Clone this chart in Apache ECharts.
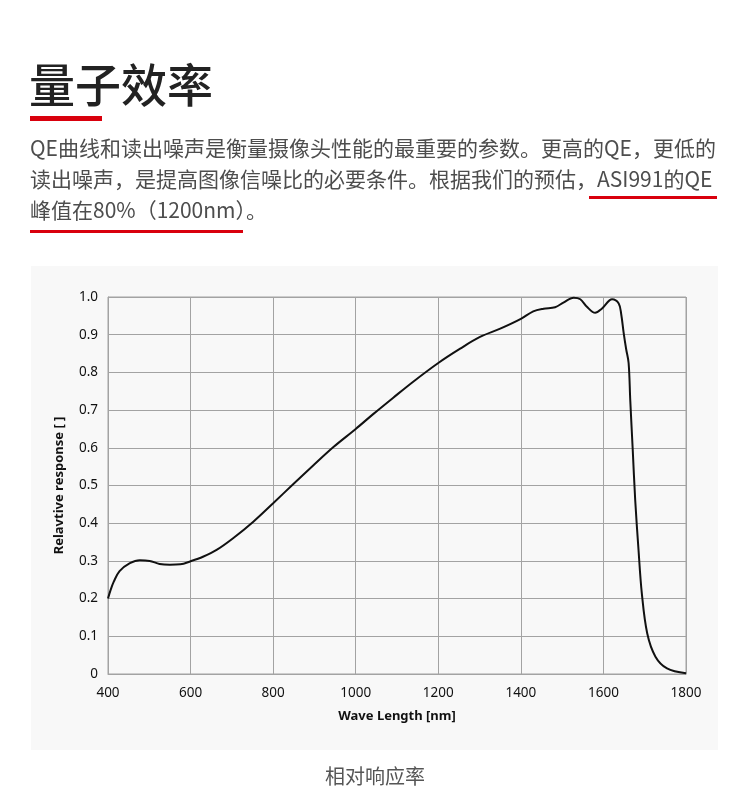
<!DOCTYPE html>
<html lang="zh">
<head>
    <meta charset="UTF-8">
    <title>量子效率</title>
    <script src="https://cdn.jsdelivr.net/npm/echarts@6/dist/echarts.min.js"></script>
    <style>
        html, body { margin: 0; padding: 0; background: #fff; }
        #main { width: 750px; height: 810px; }
    </style>
</head>
<body>
<div id="main"></div>
<script type="text/javascript">
    // 曲线数据 (波长 nm / 相对响应)
    var wavelength = [400, 406, 414, 428, 453, 477, 501, 525, 550, 575, 600, 630, 663, 703, 752, 800,
        849, 897, 946, 1000, 1043, 1091, 1140, 1200, 1253, 1301, 1350, 1400, 1430, 1455, 1483,
        1503, 1528, 1544, 1560, 1580, 1596, 1621, 1637, 1643, 1649, 1655, 1661, 1665, 1671, 1677,
        1685, 1693, 1706, 1726, 1754, 1800];
    var response = [0.200, 0.222, 0.245, 0.273, 0.294, 0.302, 0.300, 0.292, 0.290, 0.291, 0.299, 0.311, 0.329, 0.360, 0.404, 0.453,
        0.504, 0.553, 0.602, 0.650, 0.690, 0.733, 0.776, 0.825, 0.863, 0.894, 0.916, 0.942, 0.962, 0.969, 0.973,
        0.985, 0.998, 0.994, 0.974, 0.958, 0.969, 0.994, 0.983, 0.955, 0.905, 0.862, 0.825, 0.726, 0.594, 0.461,
        0.329, 0.214, 0.108, 0.046, 0.015, 0.002];
    var xTicks = [400, 600, 800, 1000, 1200, 1400, 1600, 1800];
    var yTicks = ['0', '0.1', '0.2', '0.3', '0.4', '0.5', '0.6', '0.7', '0.8', '0.9', '1.0'];

    var titleText = '量子效率';
    var paraLines = [
        'QE曲线和读出噪声是衡量摄像头性能的最重要的参数。更高的QE，更低的',
        '读出噪声，是提高图像信噪比的必要条件。根据我们的预估，ASI991的QE',
        '峰值在80%（1200nm）。'
    ];
    var caption = '相对响应率';

    var points = [];
    for (var i = 0; i < wavelength.length; i++) {
        points.push([wavelength[i], response[i]]);
    }

    var cjk = '"Noto Sans CJK SC", "Noto Sans", sans-serif';
    var latin = '"Noto Sans", "Open Sans", sans-serif';
    var gridColor = '#a3a3a3';

    var myChart = echarts.init(document.getElementById('main'), null, {renderer: 'canvas'});
    myChart.setOption({
        animation: false,
        backgroundColor: '#fff',
        graphic: [
            // 图表底色
            {type: 'rect', z: -10, shape: {x: 31, y: 266, width: 687, height: 484}, style: {fill: '#f8f8f8'}},
            {type: 'text', left: 29, top: 62, style: {text: titleText, font: '500 46px ' + cjk, fill: '#222'}},
            {type: 'rect', shape: {x: 30, y: 116, width: 72, height: 5}, style: {fill: '#d9000d'}},
            {type: 'text', left: 30, top: 138, style: {text: paraLines[0], font: '21px ' + cjk, fill: '#4d4d4d'}},
            {type: 'text', left: 30, top: 169, style: {text: paraLines[1], font: '21px ' + cjk, fill: '#4d4d4d'}},
            {type: 'text', left: 30, top: 200, style: {text: paraLines[2], font: '21px ' + cjk, fill: '#4d4d4d'}},
            {type: 'rect', shape: {x: 589, y: 196, width: 128, height: 3}, style: {fill: '#d9000d'}},
            {type: 'rect', shape: {x: 30, y: 230, width: 213, height: 3}, style: {fill: '#d9000d'}},
            {type: 'text', left: 'center', top: 766, style: {text: caption, font: '20px ' + cjk, fill: '#555'}}
        ],
        grid: {
            left: 108, right: 64, top: 297, bottom: 136,
            show: true, borderColor: gridColor, borderWidth: 1, backgroundColor: 'transparent'
        },
        xAxis: {
            type: 'value',
            min: xTicks[0], max: xTicks[xTicks.length - 1], interval: 200,
            name: 'Wave Length [nm]',
            nameLocation: 'middle', nameGap: 36,
            nameTextStyle: {fontFamily: latin, fontWeight: 'bold', fontSize: 13, color: '#111'},
            axisLine: {lineStyle: {color: gridColor}},
            axisTick: {show: false},
            axisLabel: {
                fontFamily: latin, fontSize: 13.5, color: '#111', margin: 12,
                formatter: function (v) { return String(v); }
            },
            splitLine: {show: true, lineStyle: {color: gridColor, width: 1}}
        },
        yAxis: {
            type: 'value',
            min: 0, max: 1, interval: 0.1,
            name: 'Relavtive response [ ]',
            nameLocation: 'middle', nameGap: 42,
            nameTextStyle: {fontFamily: latin, fontWeight: 'bold', fontSize: 13, color: '#111'},
            axisLine: {show: true, lineStyle: {color: gridColor}},
            axisTick: {show: false},
            axisLabel: {
                fontFamily: latin, fontSize: 13.5, color: '#111', margin: 10,
                formatter: function (v) { return yTicks[Math.round(v * 10)]; }
            },
            splitLine: {show: true, lineStyle: {color: gridColor, width: 1}}
        },
        series: [{
            type: 'line',
            data: points,
            smooth: 0.35,
            showSymbol: false,
            lineStyle: {color: '#111', width: 2}
        }]
    });
</script>
</body>
</html>
